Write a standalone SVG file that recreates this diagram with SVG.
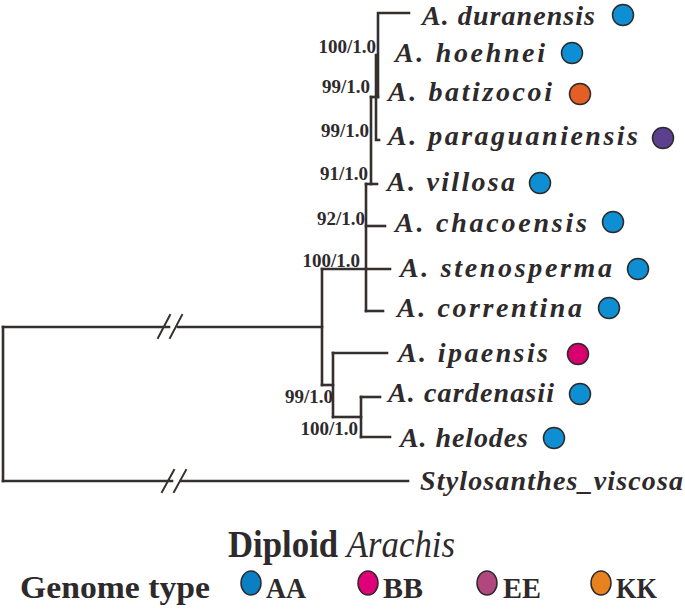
<svg xmlns="http://www.w3.org/2000/svg" width="685" height="614" viewBox="0 0 685 614">
<style>
.br{stroke:#35302e;stroke-width:2.6;fill:none;stroke-linecap:square}
.tx{font-family:"Liberation Serif","Times New Roman",serif;font-weight:bold;font-style:italic;font-size:28px;fill:#2e2a2b}
.sp{font-family:"Liberation Serif","Times New Roman",serif;font-weight:bold;font-size:19px;fill:#2e2a2b;text-anchor:end}
.dot{stroke:#2e2a2b;stroke-width:1.5}
.lg{font-family:"Liberation Serif","Times New Roman",serif;font-weight:bold;fill:#2e2a2b}
</style>
<rect width="685" height="614" fill="#fff"/>
<g id="connectors" class="br">
<path d="M378,13V97M378,13H409"/>
<path d="M376,55V97"/>
<path d="M371,97H378"/>
<path d="M376,97V140H379"/>
<path d="M371,97V184"/>
<path d="M366,184H377"/>
<path d="M366,184V311"/>
<path d="M366,226H385"/>
<path d="M366,311H383"/>
<path d="M322,269H390"/>
<path d="M322,269V385"/>
<path d="M3,327H169M178,327H322"/>
<path d="M322,385H333"/>
<path d="M333,353V417"/>
<path d="M333,353H387"/>
<path d="M333,417H361"/>
<path d="M361,397V437"/>
<path d="M361,397H380"/>
<path d="M361,437H390"/>
<path d="M3,327V481"/>
<path d="M3,481H172M181,481H408"/>
<path d="M158,338L170,315M170,338L182,315" stroke-width="2"/>
<path d="M162,492L174,470M174,492L186,470" stroke-width="2"/>
</g>
<g id="duranensis"><text class="tx" x="422" y="25" font-size="27" textLength="173" lengthAdjust="spacing">A. duranensis</text><circle class="dot" cx="623" cy="15" r="10.5" fill="#0f8fd3"/></g>
<g id="hoehnei"><text class="tx" x="395" y="62" textLength="150" lengthAdjust="spacing">A. hoehnei</text><circle class="dot" cx="572" cy="53" r="10.5" fill="#0f8fd3"/></g>
<g id="batizocoi"><text class="tx" x="388" y="101" textLength="164" lengthAdjust="spacing">A. batizocoi</text><circle class="dot" cx="580" cy="94" r="10.5" fill="#e35f25"/></g>
<g id="paraguaniensis"><text class="tx" x="388" y="145" textLength="250" lengthAdjust="spacing">A. paraguaniensis</text><circle class="dot" cx="663" cy="138" r="10.5" fill="#5c3f8f"/></g>
<g id="villosa"><text class="tx" x="387" y="191" textLength="128" lengthAdjust="spacing">A. villosa</text><circle class="dot" cx="540" cy="183" r="10.5" fill="#0f8fd3"/></g>
<g id="chacoensis"><text class="tx" x="395" y="232" textLength="192" lengthAdjust="spacing">A. chacoensis</text><circle class="dot" cx="613" cy="222" r="10.5" fill="#0f8fd3"/></g>
<g id="stenosperma"><text class="tx" x="400" y="277" textLength="212" lengthAdjust="spacing">A. stenosperma</text><circle class="dot" cx="638" cy="269" r="10.5" fill="#0f8fd3"/></g>
<g id="correntina"><text class="tx" x="397" y="317" textLength="185" lengthAdjust="spacing">A. correntina</text><circle class="dot" cx="609" cy="308" r="10.5" fill="#0f8fd3"/></g>
<g id="ipaensis"><text class="tx" x="398" y="362" textLength="150" lengthAdjust="spacing">A. ipaensis</text><circle class="dot" cx="578" cy="354" r="10.5" fill="#d8006f"/></g>
<g id="cardenasii"><text class="tx" x="388" y="402" textLength="166" lengthAdjust="spacing">A. cardenasii</text><circle class="dot" cx="580" cy="394" r="10.5" fill="#0f8fd3"/></g>
<g id="helodes"><text class="tx" x="400" y="447" textLength="128" lengthAdjust="spacing">A. helodes</text><circle class="dot" cx="554" cy="438" r="10.5" fill="#0f8fd3"/></g>
<g id="stylosanthes"><text class="tx" x="420" y="490" textLength="263" lengthAdjust="spacing">Stylosanthes_viscosa</text></g>
<g id="support">
<text class="sp" x="376" y="53">100/1.0</text>
<text class="sp" x="370" y="93">99/1.0</text>
<text class="sp" x="369" y="137">99/1.0</text>
<text class="sp" x="368" y="180">91/1.0</text>
<text class="sp" x="365" y="225">92/1.0</text>
<text class="sp" x="360" y="267">100/1.0</text>
<text class="sp" x="333" y="403">99/1.0</text>
<text class="sp" x="358" y="435">100/1.0</text>
</g>
<g id="title"><text class="lg" x="228" y="557" font-size="37" textLength="227" lengthAdjust="spacingAndGlyphs">Diploid <tspan font-style="italic" font-weight="normal">Arachis</tspan></text></g>
<g id="legend">
<text class="lg" x="20" y="598" font-size="32" textLength="190" lengthAdjust="spacingAndGlyphs">Genome type</text>
<ellipse class="dot" cx="251" cy="583" rx="10" ry="12" fill="#0a7fc3"/>
<text class="lg" x="266" y="598" font-size="30" textLength="40" lengthAdjust="spacingAndGlyphs">AA</text>
<ellipse class="dot" cx="368" cy="583" rx="10" ry="12" fill="#e0007a"/>
<text class="lg" x="383" y="598" font-size="30" textLength="40" lengthAdjust="spacingAndGlyphs">BB</text>
<ellipse class="dot" cx="487" cy="583" rx="10" ry="12" fill="#b0487f"/>
<text class="lg" x="503" y="598" font-size="30" textLength="38" lengthAdjust="spacingAndGlyphs">EE</text>
<ellipse class="dot" cx="601" cy="583" rx="10" ry="12" fill="#e8821f"/>
<text class="lg" x="616" y="598" font-size="30" textLength="41" lengthAdjust="spacingAndGlyphs">KK</text>
</g>
</svg>
